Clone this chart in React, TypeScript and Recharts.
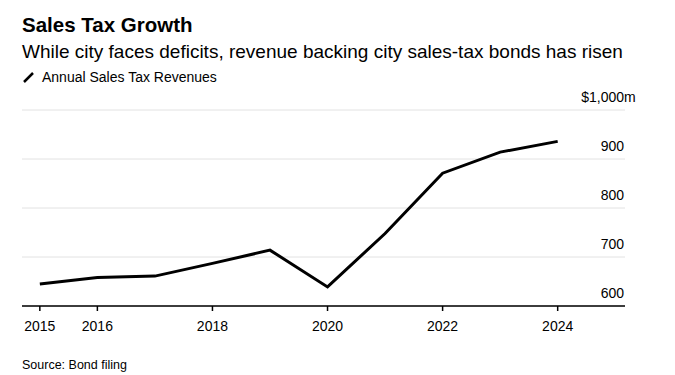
import { LineChart, Line, XAxis, YAxis, CartesianGrid } from 'recharts';

const years = [2015, 2016, 2017, 2018, 2019, 2020, 2021, 2022, 2023, 2024];
const revenues = [645, 658, 661, 687, 714, 639, 748, 871, 914, 936];
const yearTicks = [2015, 2016, 2018, 2020, 2022, 2024];
const valueTicks = [600, 700, 800, 900, 1000];

const data = years.map((year, i) => ({ year, revenue: revenues[i] }));

const FONT = '"Liberation Sans", Arial, sans-serif';

function ValueTick(props: any) {
  const { x, y, payload } = props;
  const v = payload.value as number;
  const label = v >= 1000 ? v.toLocaleString('en-US') : String(v);
  const ty = y - 13;
  return (
    <g>
      <text x={x - 1} y={ty} dy="0.35em" textAnchor="end" fontSize={14} fill="#000" fontFamily={FONT}>
        {label}
      </text>
      {v >= 1000 && (
        <>
          <text x={x - 1} y={ty} dy="0.35em" textAnchor="start" fontSize={14} fill="#000" fontFamily={FONT}>m</text>
          <text x={x - 36} y={ty} dy="0.35em" textAnchor="end" fontSize={14} fill="#000" fontFamily={FONT}>$</text>
        </>
      )}
    </g>
  );
}

export default function App() {
  return (
    <div style={{ position: 'fixed', left: 0, top: 0, width: 675, height: 375, overflow: 'hidden', background: '#fff', fontFamily: FONT }}>
      <div style={{ position: 'absolute', left: 22, top: 13, fontSize: 20.5, fontWeight: 700, color: '#000' }}>
        Sales Tax Growth
      </div>
      <div style={{ position: 'absolute', left: 22, top: 41, fontSize: 19, color: '#000' }}>
        While city faces deficits, revenue backing city sales-tax bonds has risen
      </div>
      <div style={{ position: 'absolute', left: 22, top: 69, fontSize: 14, color: '#000', display: 'flex', alignItems: 'center' }}>
        <svg width={14} height={14} style={{ marginRight: 6 }}>
          <line x1={2} y1={12} x2={11} y2={3} stroke="#000" strokeWidth={2.5} />
        </svg>
        Annual Sales Tax Revenues
      </div>
      <div style={{ position: 'absolute', left: 0, top: 0 }}>
        <LineChart width={675} height={375} data={data} margin={{ top: 110, right: 0, bottom: 0, left: 22 }}>
          <CartesianGrid vertical={false} stroke="#e2e2e2" strokeWidth={1} />
          <XAxis
            dataKey="year"
            type="number"
            domain={[2014.69, 2025.17]}
            ticks={yearTicks}
            allowDataOverflow
            tickSize={5}
            tickMargin={10}
            stroke="#000"
            strokeWidth={1.5}
            tick={{ fill: '#000', fontSize: 14, fontFamily: FONT }}
            height={69}
          />
          <YAxis
            orientation="right"
            domain={[600, 1000]}
            ticks={valueTicks}
            width={50}
            axisLine={false}
            tickLine={false}
            tickSize={0}
            tickMargin={0}
            tick={<ValueTick />}
          />
          <Line
            dataKey="revenue"
            stroke="#000"
            strokeWidth={3}
            dot={false}
            isAnimationActive={false}
          />
        </LineChart>
      </div>
      <div style={{ position: 'absolute', left: 22, top: 358, fontSize: 12.5, color: '#000' }}>
        Source: Bond filing
      </div>
    </div>
  );
}
